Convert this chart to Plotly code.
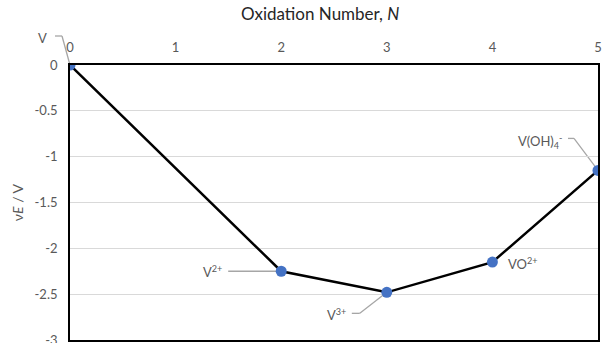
import plotly.graph_objects as go

# Frost diagram for vanadium species
oxidation_number = [0, 2, 3, 4, 5]
nu_e = [0.0, -2.25, -2.48, -2.15, -1.15]
species = ["V", "V<sup>2+</sup>", "V<sup>3+</sup>", "VO<sup>2+</sup>", "V(OH)<sub>4</sub><sup>-</sup>"]

x_ticks = [0, 1, 2, 3, 4, 5]
y_ticks = [0, -0.5, -1, -1.5, -2, -2.5, -3]
y_tick_text = ["0", "-0.5", "-1", "-1.5", "-2", "-2.5", "-3"]

X_RANGE = [0, 5]
Y_RANGE = [-3, 0]

FONT = "Lato, 'Open Sans', sans-serif"
GRAY = "#595959"
LEADER = "#A6A6A6"

fig = go.Figure()
fig.add_trace(go.Scatter(
    x=oxidation_number, y=nu_e, mode="lines+markers",
    line=dict(color="black", width=2.5),
    marker=dict(color="#4472C4", size=11),
    showlegend=False, hoverinfo="skip",
))

# label placement in pixels relative to each point (screen y grows downward):
# (elbow dx, elbow dy, horizontal leader length, label dx, label dy, anchor)
label_layout = [
    (-8, -29, 7, -21, -27, "right"),
    (-53, 0, 0, -57, 0, "right"),
    (-27, 21, 8, -39, 22, "right"),
    (0, 0, 0, 14, 1, "left"),
    (-24, -32, 6, -34, -29, "right"),
]


def to_paper(v, rng):
    return (v - rng[0]) / (rng[1] - rng[0])


shapes = []
annotations = []
for xv, yv, txt, (ex, ey, hl, lx, ly, anc) in zip(oxidation_number, nu_e, species, label_layout):
    # leaders are anchored in paper space so they can extend past the plot frame
    leader = dict(type="line", xref="paper", yref="paper", xsizemode="pixel", ysizemode="pixel",
                  xanchor=to_paper(xv, X_RANGE), yanchor=to_paper(yv, Y_RANGE),
                  line=dict(color=LEADER, width=1.3), layer="below")
    if ex != 0 or ey != 0:
        shapes.append(dict(leader, x0=0, y0=0, x1=ex, y1=-ey))
    if hl:
        shapes.append(dict(leader, x0=ex, y0=-ey, x1=ex - hl, y1=-ey))
    annotations.append(dict(
        x=xv, y=yv, xref="x", yref="y", xshift=lx, yshift=-ly,
        text=txt, showarrow=False, xanchor=anc, yanchor="middle",
        font=dict(family=FONT, size=13, color=GRAY),
    ))

fig.update_layout(
    width=602, height=343,
    margin=dict(l=70, r=4, t=65, b=3),
    paper_bgcolor="white", plot_bgcolor="white",
    font=dict(family=FONT, size=13, color=GRAY),
    title=dict(text="Oxidation Number, <i>N</i>", x=0.532, xanchor="center",
               xref="container", y=1, yref="container", yanchor="top", pad=dict(t=8),
               font=dict(family=FONT, size=17, color="#262626")),
    shapes=shapes,
    annotations=annotations,
    xaxis=dict(
        side="top", range=X_RANGE, tickvals=x_ticks, automargin=False,
        showgrid=False, zeroline=False,
        showline=True, linecolor="black", linewidth=1.8, mirror=True,
        ticks="", ticklabelstandoff=6, ticklabeloverflow="allow",
        tickfont=dict(family=FONT, size=13, color=GRAY),
    ),
    yaxis=dict(
        range=Y_RANGE, tickvals=y_ticks, ticktext=y_tick_text, automargin=False,
        showgrid=True, gridcolor="#D9D9D9", gridwidth=1, zeroline=False,
        showline=True, linecolor="black", linewidth=1.8, mirror=True,
        ticks="", ticklabelstandoff=8, ticklabeloverflow="allow",
        tickfont=dict(family=FONT, size=13, color=GRAY),
        title=dict(text="ν<i>E</i> / V", standoff=8,
                   font=dict(family=FONT, size=14, color=GRAY)),
    ),
)

fig.write_html("out.html")
